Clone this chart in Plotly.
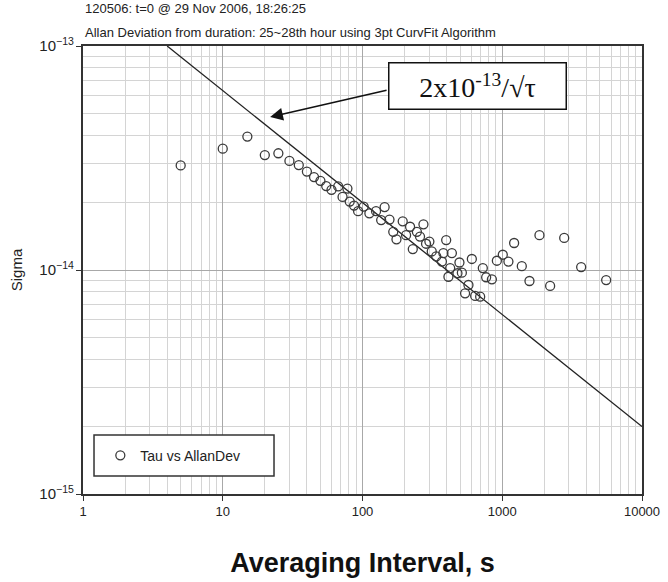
import plotly.graph_objects as go

# ---- data ----
tau = [5, 10, 15, 20, 25, 30, 35, 40, 45, 50,
       55, 60, 67, 78, 72, 81, 87, 93, 102, 112,
       125, 144, 136, 156, 166, 175, 194, 219, 205, 229,
       245, 258, 273, 301, 285, 313, 337, 370, 397, 379,
       436, 424, 412, 494, 478, 514, 573, 542, 606, 640,
       695, 726, 767, 843, 915, 1009, 1107, 1216, 1380, 1566,
       1846, 2201, 2775, 3670, 5540]
sigma_e14 = [2.93, 3.48, 3.94, 3.26, 3.32, 3.07, 2.94, 2.75, 2.60, 2.50,
             2.37, 2.28, 2.36, 2.31, 2.12, 2.02, 1.94, 1.83, 1.92, 1.79,
             1.83, 1.91, 1.67, 1.68, 1.48, 1.37, 1.65, 1.56, 1.43, 1.24,
             1.48, 1.41, 1.60, 1.34, 1.31, 1.21, 1.15, 1.09, 1.36, 1.19,
             1.19, 1.02, 0.933, 1.08, 0.967, 0.973, 0.857, 0.787, 1.12, 0.766,
             0.760, 1.02, 0.928, 0.909, 1.10, 1.17, 1.09, 1.32, 1.04, 0.893,
             1.43, 0.849, 1.39, 1.03, 0.902]
sigma = [v * 1e-14 for v in sigma_e14]

# reference line 2e-13/sqrt(tau), endpoints
line_tau = [4, 10000]
line_sigma = [1.0e-13, 2.0e-15]

x_ticks = [1, 10, 100, 1000, 10000]
x_tick_text = ["1", "10", "100", "1000", "10000"]

title_line1 = "120506: t=0 @ 29 Nov 2006, 18:26:25"
title_line2 = "Allan Deviation from duration: 25~28th hour using 3pt CurvFit Algorithm"

FONT = "Liberation Sans, Arial, sans-serif"

fig = go.Figure()
fig.add_trace(go.Scatter(
    x=line_tau, y=line_sigma, mode="lines",
    line=dict(color="#222222", width=1.3), showlegend=False, hoverinfo="skip"))
fig.add_trace(go.Scatter(
    x=tau, y=sigma, mode="markers", name="Tau vs AllanDev",
    marker=dict(symbol="circle-open", size=9, color="#3a3a3a", line=dict(width=1.3))))

grid_major = "#a8a8a8"
grid_minor = "#d4d4d4"

fig.update_xaxes(
    type="log", range=[0, 4],
    tickvals=x_ticks, ticktext=x_tick_text,
    ticks="outside", ticklen=5, tickcolor="#333",
    showline=True, linecolor="#333", linewidth=1.5, mirror=True,
    showgrid=True, gridcolor=grid_major, gridwidth=1.3,
    minor=dict(dtick="D1", showgrid=True, gridcolor=grid_minor, gridwidth=1.3, ticks=""),
    tickfont=dict(family=FONT, size=13, color="#222"),
    title=dict(text="<b>Averaging Interval, s</b>",
               font=dict(family=FONT, size=27, color="#111"), standoff=35),
    zeroline=False,
)
fig.update_yaxes(
    type="log", range=[-15, -13], dtick=1, exponentformat="power",
    ticks="outside", ticklen=5, tickcolor="#333",
    showline=True, linecolor="#333", linewidth=1.5, mirror=True,
    showgrid=True, gridcolor=grid_major, gridwidth=1.3,
    minor=dict(dtick="D1", showgrid=True, gridcolor=grid_minor, gridwidth=1.3, ticks=""),
    tickfont=dict(family=FONT, size=12, color="#222"),
    title=dict(text="Sigma", font=dict(family=FONT, size=15, color="#222"), standoff=13),
    zeroline=False,
)

fig.update_layout(
    width=668, height=582,
    margin=dict(l=83, r=26, t=46, b=88, autoexpand=False),
    paper_bgcolor="white", plot_bgcolor="white",
    font=dict(family=FONT),
    showlegend=True,
    legend=dict(x=0.031, y=0.0855, xanchor="left", yanchor="middle",
                bgcolor="rgba(0,0,0,0)", borderwidth=0,
                font=dict(family=FONT, size=14, color="#222")),
    shapes=[dict(type="rect", xref="paper", yref="paper",
                 x0=0.0197, x1=0.3417, y0=0.0402, y1=0.1317,
                 line=dict(color="#333", width=1.5), fillcolor="white", layer="above")],
    annotations=[
        dict(text=title_line1, xref="paper", yref="paper", x=0, y=1.0826,
             xanchor="left", yanchor="middle", showarrow=False,
             font=dict(family=FONT, size=13, color="#222")),
        dict(text=title_line2, xref="paper", yref="paper", x=0, y=1.031,
             xanchor="left", yanchor="middle", showarrow=False,
             font=dict(family=FONT, size=13, color="#222")),
        # arrow
        dict(text="", x=1.339, y=-13.317, xref="x", yref="y",
             ax=2.183, ay=-13.196, axref="x", ayref="y",
             showarrow=True, arrowhead=2, arrowsize=1.6, arrowwidth=1.6,
             arrowcolor="#111", standoff=0),
        # formula box
        dict(text="2x10<sup>-13</sup>/√τ", xref="paper", yref="paper",
             x=0.7066, y=0.9096, xanchor="center", yanchor="middle",
             showarrow=False, width=174, height=43,
             bgcolor="white", bordercolor="#111", borderwidth=1.5, borderpad=1,
             font=dict(family="Liberation Serif, Times New Roman, serif", size=28, color="#111")),
    ],
)

fig.write_html("out.html", config={"displayModeBar": False},
               post_script="document.body.style.margin='0px';")
